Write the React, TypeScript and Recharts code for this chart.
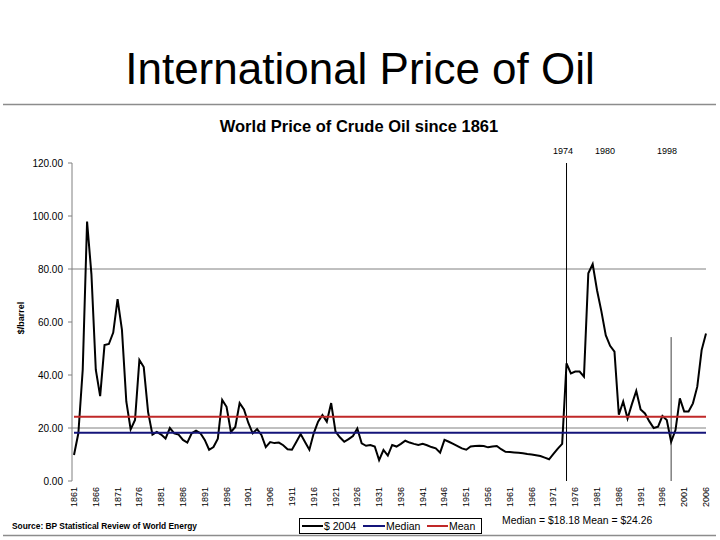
import React from 'react';
import { LineChart, Line, XAxis, YAxis, ReferenceLine } from 'recharts';

// Years 1861..2006 (categories)
const YEARS: string[] = Array.from({ length: 146 }, (_, i) => String(1861 + i));

// Price of crude oil, $/barrel in 2004 dollars
const PRICE_2004: number[] = [
  9.8, 18, 42, 97.9, 78, 42, 32, 51.3, 51.7, 56, // 1861-1870
  68.6, 57, 30, 19.5, 23, 45.7, 43, 26, 17.5, 18.5, // 1871-1880
  17.5, 16, 20, 18, 17.5, 15.5, 14.5, 18, 19, 18, // 1881-1890
  15.5, 11.8, 12.8, 16, 30.6, 28, 18.5, 20.4, 29.4, 27, // 1891-1900
  21.9, 18, 19.6, 17.4, 12.8, 14.7, 14.3, 14.5, 13.5, 12, // 1901-1910
  11.8, 14.7, 17.7, 14.7, 11.8, 18, 22.4, 24.9, 22.4, 29.4, // 1911-1920
  18.6, 16.5, 14.8, 15.8, 17, 19.8, 14.2, 13.3, 13.6, 13, // 1921-1930
  7.9, 11.7, 9.6, 13.6, 13, 14, 15.2, 14.5, 14, 13.6, // 1931-1940
  14, 13.5, 12.8, 12.3, 10.7, 15.5, 14.8, 14, 13.2, 12.3, // 1941-1950
  11.8, 13, 13.2, 13.3, 13.2, 12.7, 13, 13.2, 12, 11, // 1951-1960
  10.9, 10.8, 10.7, 10.5, 10.2, 10, 9.7, 9.4, 8.8, 8.2, // 1961-1970
  10.2, 12.2, 14, 44.4, 40.6, 41.3, 41.3, 39.4, 78.4, 81.9, // 1971-1980
  72, 64, 55, 51, 48.8, 25, 30, 23.6, 29, 34, // 1981-1990
  27, 25.5, 22.5, 20, 20.5, 24.5, 23, 14.8, 19.2, 31.2, // 1991-2000
  26.2, 26.2, 29.3, 35.6, 49.4, 55.7, // 2001-2006
];

const MEDIAN_VALUE = 18.18;
const MEAN_VALUE = 24.26;

const X_TICKS: string[] = [
  '1861', '1866', '1871', '1876', '1881', '1886', '1891', '1896', '1901', '1906',
  '1911', '1916', '1921', '1926', '1931', '1936', '1941', '1946', '1951', '1956',
  '1961', '1966', '1971', '1976', '1981', '1986', '1991', '1996', '2001', '2006',
];
const Y_TICKS: number[] = [0, 20, 40, 60, 80, 100, 120];

const data = YEARS.map((year, i) => ({
  year,
  price: PRICE_2004[i],
  median: MEDIAN_VALUE,
  mean: MEAN_VALUE,
}));

const BLACK = '#000000';
const NAVY = '#14147a';
const RED = '#c02828';
const GRAY = '#808080';
const FONT = '"Liberation Sans", Arial, sans-serif';

const XTick = (props: any) => {
  const { x, y, payload } = props;
  return (
    <text
      x={0}
      y={0}
      transform={`translate(${x},${y - 2}) rotate(-90)`}
      textAnchor="end"
      dominantBaseline="central"
      fontSize={9}
      fontFamily={FONT}
      fill="#000"
    >
      {payload.value}
    </text>
  );
};

export default function App() {
  return (
    <div style={{ position: 'absolute', left: 0, top: 0, width: 720, height: 540, background: '#fff', fontFamily: FONT }}>
      <div style={{ position: 'absolute', left: 0, top: 0 }}>
        <LineChart
          width={720}
          height={540}
          data={data}
          margin={{ top: 163, right: 14, bottom: 19, left: 12 }}
        >
          <XAxis
            dataKey="year"
            ticks={X_TICKS}
            interval={0}
            tick={<XTick />}
            tickLine={false}
            axisLine={false}
            height={40}
            padding={{ left: 2, right: 0 }}
          />
          <YAxis
            domain={[0, 120]}
            ticks={Y_TICKS}
            tickFormatter={(v: number) => v.toFixed(2)}
            width={60}
            tickSize={4}
            tickMargin={5}
            axisLine={{ stroke: GRAY }}
            tickLine={{ stroke: GRAY }}
            tick={{ fontSize: 10, fill: '#000', fontFamily: FONT }}
          />
          <ReferenceLine y={20} stroke={GRAY} strokeWidth={1} />
          <ReferenceLine y={80} stroke={GRAY} strokeWidth={1} />
          <ReferenceLine x="1974" stroke={BLACK} strokeWidth={1} />
          <ReferenceLine
            segment={[{ x: '1998', y: 54.3 }, { x: '1998', y: 0 }]}
            stroke="#404040"
            strokeWidth={1}
          />
          <Line
            type="linear"
            dataKey="price"
            name="$ 2004"
            stroke={BLACK}
            strokeWidth={2}
            dot={false}
            isAnimationActive={false}
          />
          <Line
            type="linear"
            dataKey="median"
            name="Median"
            stroke={NAVY}
            strokeWidth={2}
            dot={false}
            isAnimationActive={false}
          />
          <Line
            type="linear"
            dataKey="mean"
            name="Mean"
            stroke={RED}
            strokeWidth={2}
            dot={false}
            isAnimationActive={false}
          />
        </LineChart>
      </div>
      <svg
        width={720}
        height={540}
        style={{ position: 'absolute', left: 0, top: 0, pointerEvents: 'none' }}
        fontFamily={FONT}
      >
        <text x={360} y={84} textAnchor="middle" fontSize={44} fill="#000">
          International Price of Oil
        </text>
        <line x1={3} x2={716} y1={104.5} y2={104.5} stroke="#8c8c8c" strokeWidth={1.5} />
        <text x={359} y={132} textAnchor="middle" fontSize={16.5} fontWeight="bold" fill="#000">
          World Price of Crude Oil since 1861
        </text>
        <text x={563} y={154} textAnchor="middle" fontSize={9} fill="#000">1974</text>
        <text x={605} y={154} textAnchor="middle" fontSize={9} fill="#000">1980</text>
        <text x={667} y={154} textAnchor="middle" fontSize={9} fill="#000">1998</text>
        <text
          x={0}
          y={0}
          transform="translate(24,318) rotate(-90)"
          textAnchor="middle"
          fontSize={9}
          fontWeight="bold"
          fill="#000"
        >
          $/barrel
        </text>
        <text x={12} y={529} fontSize={8.4} fontWeight="bold" fill="#000">
          Source: BP Statistical Review of World Energy
        </text>
        <rect x={299.5} y={518.5} width={182} height={15} fill="#fff" stroke="#000" strokeWidth={1} />
        <line x1={302} x2={323} y1={526} y2={526} stroke={BLACK} strokeWidth={2} />
        <text x={324} y={530} fontSize={10.5} fill="#000">$ 2004</text>
        <line x1={363} x2={385} y1={526} y2={526} stroke={NAVY} strokeWidth={2} />
        <text x={386} y={530} fontSize={10.5} fill="#000">Median</text>
        <line x1={427} x2={448} y1={526} y2={526} stroke={RED} strokeWidth={2} />
        <text x={449} y={530} fontSize={10.5} fill="#000">Mean</text>
        <text x={502} y={524} fontSize={10.4} fill="#000">
          Median = $18.18 Mean = $24.26
        </text>
        <line x1={3} x2={716} y1={535.5} y2={535.5} stroke="#8c8c8c" strokeWidth={1.5} />
      </svg>
    </div>
  );
}
